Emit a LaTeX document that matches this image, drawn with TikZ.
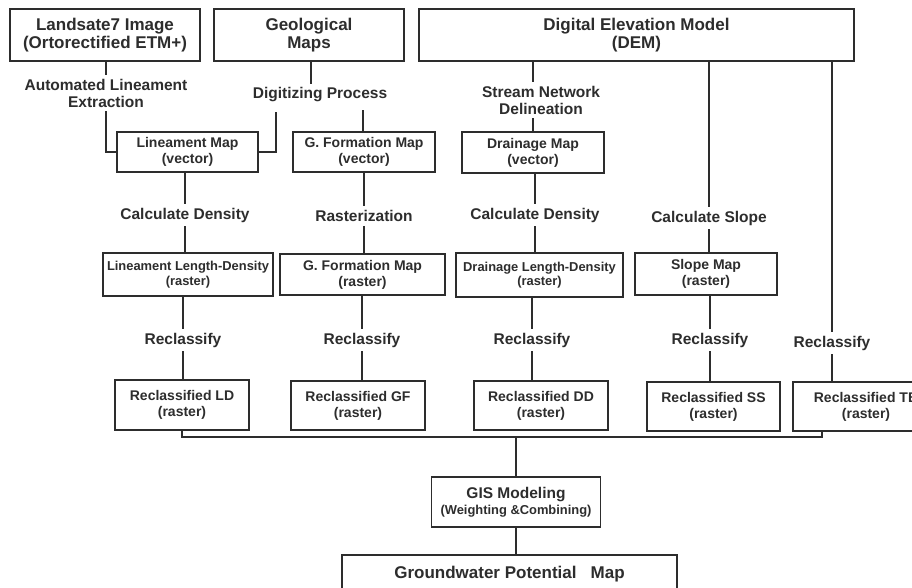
\documentclass[tikz,border=0pt]{standalone}
\usepackage{fontspec}
\setmainfont{Liberation Sans}
\definecolor{ink}{RGB}{45,45,45}
\tikzset{
  lw/.style={line width=1.9pt, draw=ink},
  box/.style={draw=ink, line width=1.9pt, inner sep=0pt, align=center, text=ink},
  ttl/.style={font=\fontsize{17}{18}\selectfont\bfseries},
  bt/.style={font=\fontsize{14}{16}\selectfont\bfseries},
  st/.style={font=\fontsize{12.9}{14.5}\selectfont\bfseries},
  lab/.style={align=center, text=ink, inner sep=4pt, font=\fontsize{15.5}{17}\selectfont\bfseries},
}
\begin{document}
\begin{tikzpicture}[x=1pt,y=-1pt]
\useasboundingbox (0,0) rectangle (912,587);
\fill[white] (0,0) rectangle (912,587);
\clip (0,0) rectangle (912,587);

% top sources
\node[box,ttl,minimum width=190pt,minimum height=52pt] (land) at (105,35) {Landsate7 Image\\(Ortorectified ETM+)};
\node[box,ttl,minimum width=190pt,minimum height=52pt] (geo) at (309,35) {Geological\\Maps};
\node[box,ttl,minimum width=435pt,minimum height=52pt] (dem) at (636.5,35) {Digital Elevation Model\\(DEM)};

% process labels row 1
\node[lab] (lab1) at (106,93) {Automated Lineament\\Extraction};
\node[lab] (lab2) at (320,95) {Digitizing Process};
\node[lab] (lab3) at (541,100) {Stream Network\\Delineation};

% vector maps
\node[box,bt,minimum width=141pt,minimum height=40pt] (linv) at (187.5,152) {Lineament Map\\(vector)};
\node[box,bt,minimum width=142pt,minimum height=40pt] (gfv) at (364,152) {G. Formation Map\\(vector)};
\node[box,bt,minimum width=142pt,minimum height=41pt] (drv) at (533,152.5) {Drainage Map\\(vector)};

% process labels row 2
\node[lab] (cd1) at (185,215) {Calculate Density};
\node[lab] (ras) at (364,216) {Rasterization};
\node[lab] (cd2) at (535,215) {Calculate Density};
\node[lab] (csl) at (709,218) {Calculate Slope};

% raster maps
\node[box,st,minimum width=170pt,minimum height=43pt] (lld) at (188,274.5) {Lineament Length-Density\\(raster)};
\node[box,bt,minimum width=165pt,minimum height=41pt] (gfr) at (362.5,274.5) {G. Formation Map\\(raster)};
\node[box,st,minimum width=167pt,minimum height=44pt] (dld) at (539.5,275) {Drainage Length-Density\\(raster)};
\node[box,bt,minimum width=142pt,minimum height=42pt] (slp) at (706,274) {Slope Map\\(raster)};

% reclassify labels
\node[lab] (rc1) at (183,340) {Reclassify};
\node[lab] (rc2) at (362,340) {Reclassify};
\node[lab] (rc3) at (532,340) {Reclassify};
\node[lab] (rc4) at (710,340) {Reclassify};
\node[lab] (rc5) at (832,343) {Reclassify};

% reclassified maps
\node[box,bt,minimum width=134pt,minimum height=50pt] (rld) at (182,405) {Reclassified LD\\(raster)};
\node[box,bt,minimum width=134pt,minimum height=49pt] (rgf) at (358,405.5) {Reclassified GF\\(raster)};
\node[box,bt,minimum width=134pt,minimum height=49pt] (rdd) at (541,405.5) {Reclassified DD\\(raster)};
\node[box,bt,minimum width=133pt,minimum height=49pt] (rss) at (713.5,406.5) {Reclassified SS\\(raster)};
\node[box,bt,minimum width=146pt,minimum height=49pt] (rtb) at (866,406.5) {Reclassified TB\\(raster)};

% final
\node[box,bt,minimum width=169pt,minimum height=50pt] (gis) at (516,502) {{\fontsize{15.5}{17}\selectfont GIS Modeling}\\{\fontsize{12.9}{15}\selectfont (Weighting \&Combining)}};
\node[box,ttl,minimum width=335pt,minimum height=38pt] (gw) at (509.5,574) {Groundwater Potential~~~Map};

% connectors: Landsat column
\draw[lw] (land.south -| lab1) -- (lab1.north);
\draw[lw] (lab1.south) |- (linv.west);
% Geological column
\coordinate (dpA) at (276,112);
\coordinate (dpB) at (363,110);
\draw[lw] (geo.south -| 311,0) -- (lab2.north -| 311,0);
\draw[lw] (dpA) |- (linv.east);
\draw[lw] (dpB) -- (dpB |- gfv.north);
% DEM -> drainage
\draw[lw] (dem.south -| drv.north) -- (lab3.north -| drv.north);
\draw[lw] (lab3.south -| drv.north) -- (drv.north);
% DEM -> slope
\draw[lw] (dem.south -| csl) -- (csl.north);
\draw[lw] (csl.south) -- (csl.south |- slp.north);
% DEM -> TB
\draw[lw] (dem.south -| rc5) -- (rc5.north);
\draw[lw] (rc5.south) -- (rc5.south |- rtb.north);

% vector -> raster
\draw[lw] (linv.south -| cd1) -- (cd1.north);
\draw[lw] (cd1.south) -- (cd1.south |- lld.north);
\draw[lw] (gfv.south -| ras) -- (ras.north);
\draw[lw] (ras.south) -- (ras.south |- gfr.north);
\draw[lw] (drv.south -| cd2) -- (cd2.north);
\draw[lw] (cd2.south) -- (cd2.south |- dld.north);

% raster -> reclassified
\draw[lw] (lld.south -| rc1) -- (rc1.north);
\draw[lw] (rc1.south) -- (rc1.south |- rld.north);
\draw[lw] (gfr.south -| rc2) -- (rc2.north);
\draw[lw] (rc2.south) -- (rc2.south |- rgf.north);
\draw[lw] (dld.south -| rc3) -- (rc3.north);
\draw[lw] (rc3.south) -- (rc3.south |- rdd.north);
\draw[lw] (slp.south -| rc4) -- (rc4.north);
\draw[lw] (rc4.south) -- (rc4.south |- rss.north);

% bus
\coordinate (busR) at (822,437);
\draw[lw] (rld.south) |- (busR) -- (busR |- rtb.south);
\draw[lw] (gis.north) -- (gis.north |- busR);
\draw[lw] (gis.south) -- (gis.south |- gw.north);
\end{tikzpicture}
\end{document}
